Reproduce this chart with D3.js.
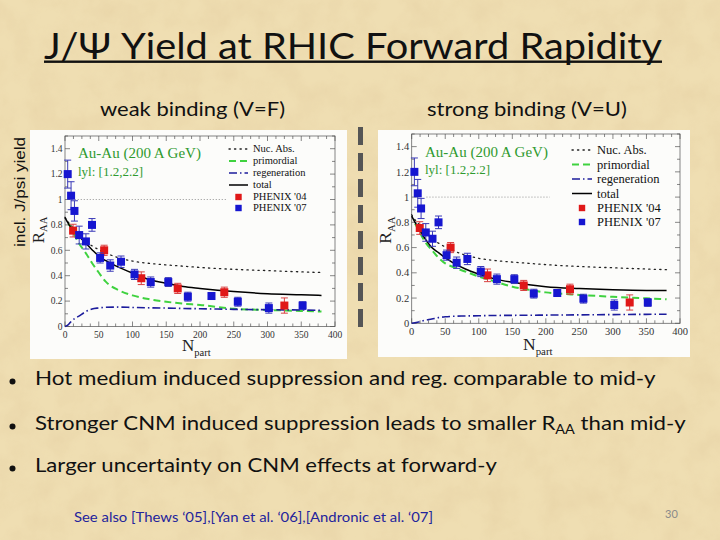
<!DOCTYPE html>
<html><head><meta charset="utf-8">
<script src="https://cdn.jsdelivr.net/npm/d3@7"></script>
<style>html,body{margin:0;padding:0;background:#ead7a8;} svg{display:block}</style>
</head><body>
<svg id="s" width="720" height="540"></svg>
<script>
// ---------- DATA ----------
const nPart07 = [4, 9, 14, 21, 31, 40, 52, 67, 83, 103, 127, 153, 182, 217, 256, 302, 352];
const raa07   = [1.20, 1.03, 0.91, 0.72, 0.67, 0.80, 0.54, 0.48, 0.51, 0.41, 0.35, 0.35, 0.235, 0.24, 0.195, 0.145, 0.165];
const err07   = [0.11, 0.11, 0.08, 0.07, 0.06, 0.05, 0.04, 0.045, 0.045, 0.04, 0.04, 0.035, 0.035, 0.02, 0.035, 0.04, 0.03];
const nPart04 = [12, 58, 113, 167, 236, 325];
const raa04   = [0.755, 0.60, 0.38, 0.30, 0.27, 0.165];
const err04   = [0.05, 0.04, 0.05, 0.04, 0.04, 0.06];

const curveN       = [0, 5, 10, 15, 20, 30, 40, 50, 60, 80, 100, 125, 150, 175, 200, 250, 300, 350, 380];
const nucAbs       = [0.86, 0.82, 0.79, 0.755, 0.73, 0.67, 0.635, 0.605, 0.58, 0.54, 0.515, 0.497, 0.485, 0.475, 0.465, 0.45, 0.44, 0.43, 0.425];
// weak binding (V=F)
const totalF       = [0.857, 0.81, 0.77, 0.745, 0.715, 0.66, 0.605, 0.555, 0.52, 0.465, 0.42, 0.37, 0.34, 0.315, 0.30, 0.275, 0.258, 0.25, 0.245];
const primordialF  = [null, 0.81, 0.77, 0.71, 0.66, 0.585, 0.50, 0.425, 0.355, 0.285, 0.245, 0.215, 0.195, 0.18, 0.17, 0.14, 0.13, 0.123, 0.118];
const regenF       = [0, 0.015, 0.045, 0.065, 0.08, 0.115, 0.138, 0.146, 0.151, 0.153, 0.15, 0.147, 0.145, 0.142, 0.14, 0.135, 0.132, 0.13, 0.127];
// strong binding (V=U)
const totalU       = [0.85, 0.80, 0.755, 0.71, 0.67, 0.60, 0.56, 0.52, 0.485, 0.43, 0.39, 0.35, 0.325, 0.305, 0.29, 0.275, 0.265, 0.26, 0.26];
const primordialU  = [null, 0.79, 0.74, 0.69, 0.645, 0.58, 0.52, 0.475, 0.45, 0.41, 0.37, 0.33, 0.29, 0.265, 0.245, 0.225, 0.21, 0.198, 0.19];
const regenU       = [0, 0.005, 0.01, 0.018, 0.024, 0.034, 0.045, 0.052, 0.055, 0.058, 0.06, 0.062, 0.063, 0.064, 0.065, 0.067, 0.069, 0.071, 0.072];
const unityRangeF  = [10, 240];
const unityRangeU  = [22, 206];

const xTicks = [0, 50, 100, 150, 200, 250, 300, 350, 400];
const yTicks = [0, 0.2, 0.4, 0.6, 0.8, 1, 1.2, 1.4];
const legendLabels = ["Nuc. Abs.", "primordial", "regeneration", "total", "PHENIX '04", "PHENIX '07"];
const annot1 = "Au-Au (200 A GeV)";
const annot2 = "lyl: [1.2,2.2]";

const titleText = "J/\u03A8 Yield at RHIC Forward Rapidity";
const subtitles = ["weak binding (V=F)", "strong binding (V=U)"];
const yieldLabel = "incl. J/psi yield";
const footer = "See also [Thews \u201805],[Yan et al. \u201806],[Andronic et al. \u201807]";
const pageNo = "30";

// ---------- DRAW ----------
const svg = d3.select("#s");
const defs = svg.append("defs");
const f = defs.append("filter").attr("id","paper").attr("x",0).attr("y",0).attr("width","100%").attr("height","100%");
f.append("feTurbulence").attr("type","fractalNoise").attr("baseFrequency","0.035").attr("numOctaves",4).attr("seed",7);
f.append("feColorMatrix").attr("type","matrix")
 .attr("values","0 0 0 0 0.78  0 0 0 0 0.62  0 0 0 0 0.36  0 0 0 -1.6 1.05");
svg.append("rect").attr("width",720).attr("height",540).attr("fill","#efdeb2");
svg.append("rect").attr("width",720).attr("height",540).attr("filter","url(#paper)").attr("opacity",0.5);

const SERIF = "'Liberation Serif','DejaVu Serif',serif";
const SANS = "Lato, 'Open Sans', sans-serif";

function panel(cfg){
  const g = svg.append("g");
  g.append("rect").attr("x",cfg.bg[0]).attr("y",cfg.bg[1]).attr("width",cfg.bg[2]-cfg.bg[0]).attr("height",cfg.bg[3]-cfg.bg[1]).attr("fill","#fcfcfa");
  const x = d3.scaleLinear().domain([0,400]).range(cfg.xr);
  const y = d3.scaleLinear().domain([0,1.5]).range(cfg.yr);
  g.append("rect").attr("x",cfg.xr[0]).attr("y",cfg.yr[1]).attr("width",cfg.xr[1]-cfg.xr[0]).attr("height",cfg.yr[0]-cfg.yr[1])
    .attr("fill","none").attr("stroke","#666").attr("stroke-width",0.8);
  const tk = g.append("g").attr("stroke","#555").attr("stroke-width",0.7);
  d3.range(0,400.01,12.5).forEach(v=>{
    const L = (v%50===0)?5:3;
    tk.append("line").attr("x1",x(v)).attr("x2",x(v)).attr("y1",cfg.yr[0]).attr("y2",cfg.yr[0]-L);
    tk.append("line").attr("x1",x(v)).attr("x2",x(v)).attr("y1",cfg.yr[1]).attr("y2",cfg.yr[1]+L);
  });
  d3.range(0,1.501,0.1).forEach(v=>{
    const L = (Math.round(v*10)%2===0)?5:3;
    tk.append("line").attr("y1",y(v)).attr("y2",y(v)).attr("x1",cfg.xr[0]).attr("x2",cfg.xr[0]+L);
    tk.append("line").attr("y1",y(v)).attr("y2",y(v)).attr("x1",cfg.xr[1]).attr("x2",cfg.xr[1]-L);
  });
  g.selectAll(".xt").data(xTicks).join("text").attr("x",d=>x(d)).attr("y",cfg.yr[0]+cfg.tickFs+1.5)
    .attr("text-anchor","middle").attr("font-family",SERIF).attr("font-size",cfg.tickFs).attr("fill","#333").text(d=>d);
  g.selectAll(".yt").data(yTicks).join("text").attr("x",cfg.xr[0]-2.5).attr("y",d=>y(d)+cfg.tickFs*0.35)
    .attr("text-anchor","end").attr("font-family",SERIF).attr("font-size",cfg.tickFs).attr("fill","#333").text(d=>d);
  const rt = g.append("text").attr("transform",`translate(${cfg.rPos[0]},${cfg.rPos[1]}) rotate(-90)`)
    .attr("font-family",SERIF).attr("font-size",cfg.axFs).attr("fill","#222").attr("text-anchor","middle");
  rt.append("tspan").text("R");
  rt.append("tspan").attr("font-size",cfg.axFs*0.62).attr("dy",cfg.axFs*0.2).text("AA");
  const nt = g.append("text").attr("x",cfg.nPos[0]).attr("y",cfg.nPos[1])
    .attr("font-family",SERIF).attr("font-size",cfg.axFs).attr("fill","#222");
  nt.append("tspan").text("N");
  nt.append("tspan").attr("font-size",cfg.axFs*0.62).attr("dy",cfg.axFs*0.28).text("part");

  g.append("line").attr("x1",x(cfg.unity[0])).attr("x2",x(cfg.unity[1])).attr("y1",y(1)).attr("y2",y(1))
    .attr("stroke","#777").attr("stroke-width",0.8).attr("stroke-dasharray","1,2");

  const line = d3.line().defined(d=>d[1]!==null).x(d=>x(d[0])).y(d=>y(d[1])).curve(d3.curveMonotoneX);
  const pts = arr => curveN.map((n,i)=>[n,arr[i]]);
  const styles = {
    nuc:  {stroke:"#222", w:1.3, dash:"1.3,4.2", cap:"round"},
    prim: {stroke:"#3fd23f", w:2.0, dash:"7,4", cap:"butt"},
    reg:  {stroke:"#1c1c9c", w:1.6, dash:"8,3,1.5,3", cap:"butt"},
    tot:  {stroke:"#000", w:1.5, dash:null, cap:"butt"}
  };
  const series = [["nuc",nucAbs],["prim",cfg.prim],["reg",cfg.reg],["tot",cfg.tot]];
  series.forEach(([k,arr])=>{
    const s = styles[k];
    g.append("path").attr("d",line(pts(arr))).attr("fill","none").attr("stroke",s.stroke)
      .attr("stroke-width",s.w).attr("stroke-dasharray",s.dash).attr("stroke-linecap",s.cap);
  });

  const ms = cfg.ms;
  function drawPts(ns, vs, es, fill, ecol){
    const d = ns.map((n,i)=>({n, v:vs[i], e:es[i]}));
    const eg = g.append("g").attr("stroke",ecol).attr("stroke-width",1);
    d.forEach(p=>{
      eg.append("line").attr("x1",x(p.n)).attr("x2",x(p.n)).attr("y1",y(p.v-p.e)).attr("y2",y(p.v+p.e));
      eg.append("line").attr("x1",x(p.n)-3.5).attr("x2",x(p.n)+3.5).attr("y1",y(p.v-p.e)).attr("y2",y(p.v-p.e));
      eg.append("line").attr("x1",x(p.n)-3.5).attr("x2",x(p.n)+3.5).attr("y1",y(p.v+p.e)).attr("y2",y(p.v+p.e));
    });
    g.append("g").selectAll("rect").data(d).join("rect")
      .attr("x",p=>x(p.n)-ms/2).attr("y",p=>y(p.v)-ms/2).attr("width",ms).attr("height",ms).attr("fill",fill);
  }
  drawPts(nPart04, raa04, err04, "#e01818", "#d84040");
  drawPts(nPart07, raa07, err07, "#1616d0", "#3a3ab8");

  const L = cfg.leg;
  const lg = g.append("g");
  const keys = ["nuc","prim","reg","tot"];
  legendLabels.forEach((lab,i)=>{
    const yy = L.rows[i];
    if(i<4){
      const s = styles[keys[i]];
      lg.append("line").attr("x1",L.x0).attr("x2",L.x1).attr("y1",yy).attr("y2",yy).attr("stroke",s.stroke)
        .attr("stroke-width",s.w).attr("stroke-dasharray",s.dash).attr("stroke-linecap",s.cap);
    } else {
      lg.append("rect").attr("x",(L.x0+L.x1)/2-ms*0.4).attr("y",yy-ms*0.4).attr("width",ms*0.8).attr("height",ms*0.8)
        .attr("fill", i===4?"#e01818":"#1616d0");
    }
    lg.append("text").attr("x",L.tx).attr("y",yy+L.fs*0.33).attr("font-family",SERIF).attr("font-size",L.fs).attr("fill","#111").text(lab);
  });
  g.append("text").attr("x",cfg.ann[0]).attr("y",cfg.ann[1]).attr("font-family",SERIF).attr("font-size",cfg.ann[3]).attr("fill","#2f9a2f").text(annot1);
  g.append("text").attr("x",cfg.ann[0]).attr("y",cfg.ann[2]).attr("font-family",SERIF).attr("font-size",cfg.ann[4]).attr("fill","#2f9a2f").text(annot2);
}

panel({bg:[30,130,347,359], xr:[65,335], yr:[326.5,136], tickFs:9.5, axFs:17, ms:8,
  rPos:[44,230], nPos:[182,351], unity:unityRangeF,
  tot:totalF, prim:primordialF, reg:regenF,
  leg:{x0:229,x1:248,tx:253,rows:[149,161,173,185,197,208],fs:10.5},
  ann:[78,158,176,15,13]});
panel({bg:[378,130,690,357], xr:[411.7,680], yr:[323.3,134], tickFs:10.5, axFs:17.5, ms:8,
  rPos:[391,230], nPos:[523,350], unity:unityRangeU,
  tot:totalU, prim:primordialU, reg:regenU,
  leg:{x0:572,x1:592,tx:597,rows:[150,164.5,179,193.5,208,222],fs:12.5},
  ann:[425,157,174,15,13]});

// separator
d3.range(127,335,26).forEach(y0=>{
  svg.append("rect").attr("x",358).attr("y",y0).attr("width",5).attr("height",Math.min(18,340-y0)).attr("fill","#555");
});

// slide text
svg.append("text").attr("x",44).attr("y",59).attr("font-family",SANS).attr("font-size",36).attr("fill","#111")
  .attr("textLength",618).attr("lengthAdjust","spacingAndGlyphs").text(titleText);
svg.append("rect").attr("x",44).attr("y",60.5).attr("width",618).attr("height",2.4).attr("fill","#111");

svg.append("text").attr("x",100).attr("y",115.5).attr("font-family",SANS).attr("font-size",20).attr("fill","#111")
  .attr("textLength",185).attr("lengthAdjust","spacingAndGlyphs").text(subtitles[0]);
svg.append("text").attr("x",427).attr("y",115.5).attr("font-family",SANS).attr("font-size",20).attr("fill","#111")
  .attr("textLength",200).attr("lengthAdjust","spacingAndGlyphs").text(subtitles[1]);

svg.append("text").attr("transform","translate(24.5,192) rotate(-90)").attr("text-anchor","middle")
  .attr("font-family","'Liberation Sans',Arial,sans-serif").attr("font-size",15).attr("fill","#111")
  .attr("textLength",110).attr("lengthAdjust","spacingAndGlyphs").text(yieldLabel);

const bullets = [
  {y:389, w:621, parts:[["Hot medium induced suppression and reg. comparable to mid-y",false]]},
  {y:434, w:651, parts:[["Stronger CNM induced suppression leads to smaller R",false],["AA",true],[" than mid-y",false]]},
  {y:476, w:462, parts:[["Larger uncertainty on CNM effects at forward-y",false]]}
];
bullets.forEach(b=>{
  svg.append("circle").attr("cx",12.5).attr("cy",b.y-7.5).attr("r",3).attr("fill","#111");
  const t = svg.append("text").attr("x",35).attr("y",b.y).attr("font-family",SANS).attr("font-size",20).attr("fill","#111");
  b.parts.forEach(([s,sub])=>{
    if(sub) t.append("tspan").attr("font-size",13).attr("dy",4).text(s);
    else t.append("tspan").attr("dy", t.selectAll("tspan").size()>0 ? -4 : 0).text(s);
  });
  const w = t.node().getComputedTextLength();
  t.attr("transform",`translate(35,0) scale(${b.w/w},1) translate(-35,0)`);
});

svg.append("text").attr("x",74).attr("y",522).attr("font-family",SANS).attr("font-size",13).attr("fill","#23239c")
  .attr("textLength",359).attr("lengthAdjust","spacingAndGlyphs").text(footer);
svg.append("text").attr("x",665).attr("y",518).attr("font-family",SANS).attr("font-size",11).attr("fill","#8a8a8a").text(pageNo);
</script>
</body></html>
